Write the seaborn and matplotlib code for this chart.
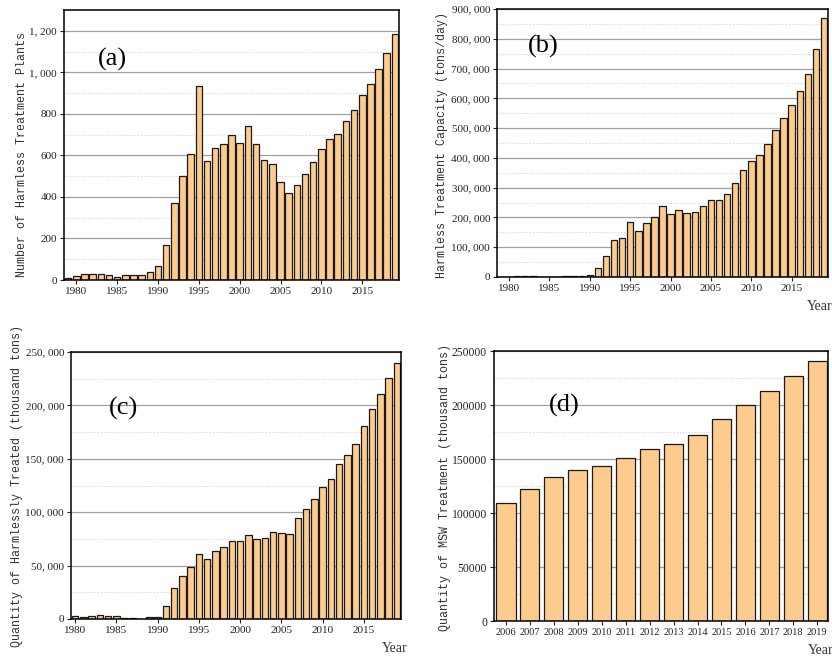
import numpy as np
import pandas as pd
import seaborn as sns
import matplotlib.pyplot as plt
from matplotlib.ticker import FuncFormatter, MultipleLocator

# (a) number of harmless treatment plants, 1979-2019
years_a = list(range(1979, 2020))
plants = [12, 17, 30, 27, 27, 24, 14, 23, 23, 26, 37, 66, 170, 371, 499, 609, 932,
          574, 635, 656, 697, 660, 742, 653, 576, 560, 470, 419, 459, 509, 568,
          630, 678, 701, 766, 819, 892, 942, 1014, 1092, 1185]

# (b) harmless treatment capacity (tons/day), 1979-2019
years_b = list(range(1979, 2020))
capacity = [500, 600, 3000, 3000, 3000, 800, 800, 800, 2000, 2000, 2000, 6800,
            30300, 71800, 125500, 131200, 185000, 156000, 181500, 202000, 238000,
            211000, 224500, 216500, 219000, 239000, 257000, 259000, 280000, 316000,
            358000, 389000, 410000, 447000, 493000, 535000, 578000, 623000,
            682000, 767000, 871000]

# (c) quantity of harmlessly treated (thousand tons), 1980-2019
years_c = list(range(1980, 2020))
treated = [2400, 2300, 2400, 3300, 2600, 3100, 600, 600, 400, 1500, 2100, 12500,
           29000, 40200, 48300, 60500, 56500, 63700, 67800, 72700, 73300, 79000,
           75000, 76200, 81500, 80800, 79300, 94800, 103300, 112300, 123300,
           130800, 145000, 154000, 164000, 180300, 197000, 210300, 226000, 240000]

# (d) quantity of MSW treatment (thousand tons), 2006-2019
years_d = [str(y) for y in range(2006, 2020)]
msw = [108900, 122500, 133600, 140100, 143500, 150600, 159500, 163900, 172500,
       187300, 200300, 212600, 226500, 241000]

sns.set_style("ticks")
plt.rcParams["font.family"] = ["Liberation Serif", "DejaVu Serif"]
plt.rcParams["axes.edgecolor"] = "black"
plt.rcParams["axes.linewidth"] = 1.1

bar_color = "#FDCB8E"
mono = ["Liberation Mono", "DejaVu Sans Mono"]

W, H = 832, 659
fig = plt.figure(figsize=(W / 100, H / 100), dpi=100)


def add_ax(l, t, r, b):
    return fig.add_axes([l / W, 1 - b / H, (r - l) / W, (b - t) / H])


def comma(v, p):
    return f"{int(v):,}".replace(",", ", ")


def style(ax, ymax, major, fmt, ylabel, lx, ly, tag, tx, ty, xs=8, ys=8):
    ax.set_ylim(0, ymax)
    ax.yaxis.set_major_locator(MultipleLocator(major))
    ax.yaxis.set_minor_locator(MultipleLocator(major / 2))
    ax.yaxis.set_major_formatter(FuncFormatter(fmt))
    ax.grid(axis="y", which="major", color="#a0a0a0", lw=0.9)
    ax.grid(axis="y", which="minor", color="#d2d2d2", lw=0.8, ls=":")
    ax.set_axisbelow(True)
    ax.tick_params(axis="both", which="major", length=3, width=0.8,
                   colors="#222222", pad=2)
    ax.tick_params(axis="x", labelsize=xs)
    ax.tick_params(axis="y", labelsize=ys)
    ax.tick_params(axis="y", which="minor", length=0)
    ax.set_xlabel("")
    ax.set_ylabel(ylabel, family=mono, fontsize=8.4, color="#333333")
    ax.yaxis.label.set_va("center")
    ax.yaxis.set_label_coords(lx, ly)
    ax.text(tx, ty, tag, transform=ax.transAxes, fontsize=19,
            ha="center", va="center", color="black")


# panel (a)
ax1 = add_ax(64, 10, 399, 280)
df_a = pd.DataFrame({"Year": years_a, "Plants": plants})
sns.barplot(data=df_a, x="Year", y="Plants", native_scale=True, width=0.8,
            color=bar_color, saturation=1, edgecolor="#1a1a1a", linewidth=0.9, ax=ax1)
ax1.set_xlim(1978.5, 2019.5)
ax1.set_xticks(range(1980, 2020, 5))
style(ax1, 1300, 200, comma, "Number of Harmless Treatment Plants",
      -0.125, 0.463, "(a)", 0.145, 0.815)

# panel (b)
ax2 = add_ax(497, 9, 828, 277)
df_b = pd.DataFrame({"Year": years_b, "Capacity": capacity})
sns.barplot(data=df_b, x="Year", y="Capacity", native_scale=True, width=0.8,
            color=bar_color, saturation=1, edgecolor="#1a1a1a", linewidth=0.9, ax=ax2)
ax2.set_xlim(1978.5, 2019.5)
ax2.set_xticks(range(1980, 2020, 5))
style(ax2, 900000, 100000, comma, "Harmless Treatment Capacity (tons/day)",
      -0.166, 0.493, "(b)", 0.14, 0.86)
fig.text(820 / W, 1 - 307 / H, "Year", fontsize=10, ha="center", va="center", color="#333333")

# panel (c)
ax3 = add_ax(71, 352, 401, 619)
df_c = pd.DataFrame({"Year": years_c, "Treated": treated})
sns.barplot(data=df_c, x="Year", y="Treated", native_scale=True, width=0.8,
            color=bar_color, saturation=1, edgecolor="#1a1a1a", linewidth=0.9, ax=ax3)
ax3.set_xlim(1979.5, 2019.5)
ax3.set_xticks(range(1980, 2020, 5))
style(ax3, 250000, 50000, comma, "Quantity of Harmlessly Treated (thousand tons)",
      -0.164, 0.498, "(c)", 0.16, 0.79)
fig.text(395 / W, 1 - 649 / H, "Year", fontsize=10, ha="center", va="center", color="#333333")

# panel (d)
ax4 = add_ax(494, 351, 828, 621)
df_d = pd.DataFrame({"Year": years_d, "MSW": msw})
sns.barplot(data=df_d, x="Year", y="MSW", width=0.8,
            color=bar_color, saturation=1, edgecolor="#1a1a1a", linewidth=0.9, ax=ax4)
ax4.set_xlim(-0.5, 13.45)
style(ax4, 250000, 50000, lambda v, p: f"{int(v)}",
      "Quantity of MSW Treatment (thousand tons)",
      -0.147, 0.496, "(d)", 0.21, 0.80, xs=7.5, ys=8.4)
fig.text(808 / W, 1 - 650 / H, "Year", fontsize=10, ha="left", va="center", color="#333333")

plt.savefig("out.png", dpi=100)
